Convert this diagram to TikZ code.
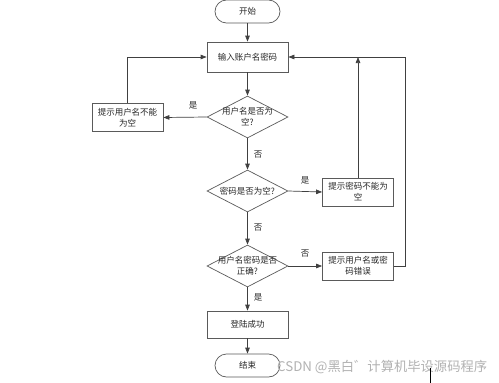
\documentclass[tikz,border=0pt]{standalone}
\usepackage{fontspec}
\setmainfont{Noto Sans CJK SC}
\usetikzlibrary{shapes.geometric,arrows.meta}
\definecolor{ln}{HTML}{404040}
\definecolor{bd}{HTML}{5A5A5A}
\begin{document}
\begin{tikzpicture}[x=1pt,y=-1pt,
  every node/.style={font=\fontsize{8.5}{11}\selectfont, text=black!85},
  proc/.style={draw=bd, line width=0.7pt, fill=white, minimum width=81pt, minimum height=30pt, inner sep=0pt, align=center},
  side/.style={draw=bd, line width=0.7pt, fill=white, minimum width=71pt, minimum height=28pt, inner sep=0pt, align=center},
  term/.style={draw=bd, line width=0.7pt, fill=white, rounded corners=11.5pt, minimum width=65pt, minimum height=23pt, inner sep=0pt},
  dia/.style={draw=bd, line width=0.7pt, fill=white, diamond, minimum width=81pt, minimum height=42pt, inner sep=0pt},
  lbl/.style={font=\fontsize{8.5}{10}\selectfont, inner sep=0pt},
  conn/.style={draw=ln, line width=0.7pt, -{Triangle[length=6pt,width=4.5pt]}},
  plain/.style={draw=ln, line width=0.7pt}]
\useasboundingbox[fill=white] (0,0) rectangle (499,383);

\node[term] (start) at (247.5,11.5) {开始};
\node[proc] (input) at (247.5,57) {输入账户名密码};
\node[dia] (d1) at (247.5,117) {};
\node[align=center, inner sep=0pt] (d1t) at (d1.center) {用户名是否为\\空?};
\node[side] (ue) at (127.5,117.5) {提示用户名不能\\为空};
\node[dia] (d2) at (247.5,191) {};
\node[inner sep=0pt] (d2t) at (d2.center) {密码是否为空?};
\node[side] (pe) at (358,192) {提示密码不能为\\空};
\node[dia] (d3) at (247.5,266) {};
\node[align=center, inner sep=0pt] (d3t) at (d3.center) {用户名密码是否\\正确?};
\node[side] (ee) at (358,266) {提示用户名或密\\码错误};
\node[proc, minimum height=27pt] (ok) at (247.5,324.5) {登陆成功};
\node[term] (end) at (247.5,365.5) {结束};

\coordinate (rr) at (405,57);

\draw[conn] (start) -- (input);
\draw[conn] (input) -- (d1);
\draw[conn] (d1) -- (d2);
\draw[conn] (d2) -- (d3);
\draw[conn] (d3) -- (ok);
\draw[conn] (ok) -- (end);
\draw[conn] (d1.west) -- (ue.east);
\draw[conn] (ue.north) |- (input.west);
\draw[conn] (d2.east) -- (pe.west);
\draw[conn] (pe.north) -- (pe.north |- rr);
\draw[conn] (d3.east) -- (ee.west);
\draw[conn] (ee.east) -| (rr) -- (input.east);

\node[lbl] (l1) at (193,105) {是};
\node[lbl] (l2) at (258,155) {否};
\node[lbl] (l3) at (305,180) {是};
\node[lbl] (l4) at (258,228) {否};
\node[lbl] (l5) at (305,254) {否};
\node[lbl] (l6) at (258,297) {是};

\node[anchor=west, inner sep=0pt, font=\fontsize{13.3}{15}\selectfont, text=black!30] (wm) at (277,367) {CSDN @黑白゛计算机毕设源码程序};
\coordinate (t1) at (430,368);
\coordinate (t2) at (430,383);
\draw[black, line width=0.9pt] (t1) -- (t2);
\end{tikzpicture}
\end{document}
